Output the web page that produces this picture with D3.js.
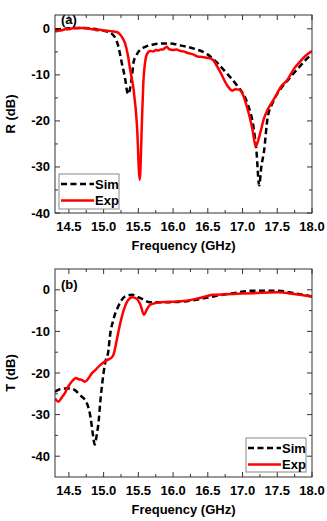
<!DOCTYPE html>
<html>
<head>
<meta charset="utf-8">
<script src="https://cdn.jsdelivr.net/npm/d3@7"></script>
<style>
  body { margin: 0; background: #fff; }
  svg text { font-family: "Liberation Sans", Arial, sans-serif; font-weight: bold; }
</style>
</head>
<body>
<svg id="chart" width="327" height="521"></svg>
<script>
// R panel (a)
const rSimF = [14.3, 14.5, 14.7, 14.85, 14.95, 15.05, 15.14, 15.21, 15.26, 15.31, 15.34, 15.36, 15.38, 15.41, 15.43, 15.47, 15.5, 15.6, 15.72, 15.85, 15.95, 16.1, 16.3, 16.49, 16.63, 16.78, 16.92, 17.07, 17.16, 17.2, 17.24, 17.27, 17.31, 17.36, 17.43, 17.55, 17.65, 17.74, 17.84, 17.92, 18.0];
const rSimV = [-0.2, 0.1, 0.2, 0, -0.3, -0.6, -1.4, -3.7, -7.3, -10.9, -13.7, -14.2, -13, -10.1, -7.3, -5.8, -5.0, -3.9, -3.4, -3.2, -3.2, -3.6, -4.3, -5.5, -7.3, -9.8, -12.3, -16.2, -21.6, -26.5, -34, -30, -26.5, -19.4, -16.2, -13, -11.2, -9.6, -7.9, -6.6, -5.5];
const rExpF = [14.3, 14.35, 14.4, 14.45, 14.5, 14.55, 14.6, 14.65, 14.7, 14.75, 14.8, 14.85, 14.9, 14.95, 15.0, 15.05, 15.1, 15.15, 15.19, 15.24, 15.28, 15.31, 15.35, 15.38, 15.43, 15.48, 15.52, 15.55, 15.57, 15.6, 15.62, 15.67, 15.72, 15.75, 15.79, 15.82, 15.85, 15.88, 15.91, 15.94, 16.0, 16.05, 16.1, 16.15, 16.2, 16.28, 16.35, 16.42, 16.49, 16.57, 16.62, 16.68, 16.78, 16.85, 16.9, 16.95, 16.99, 17.07, 17.14, 17.19, 17.22, 17.26, 17.31, 17.36, 17.43, 17.5, 17.55, 17.64, 17.74, 17.84, 17.92, 18.0];
const rExpV = [-0.6, -0.4, -0.3, -0.1, -0.1, 0.1, 0.1, 0.2, 0.2, 0.1, 0, -0.1, -0.3, -0.2, -0.4, -0.4, -0.5, -0.6, -0.7, -1.3, -2.2, -3.2, -5.8, -8.7, -13, -20.9, -32.8, -20.9, -12.3, -7, -5.6, -4.8, -4.9, -4.6, -4.7, -4.5, -4.5, -4.2, -3.9, -4.4, -4.6, -4.5, -4.8, -4.9, -5.2, -5.5, -6.0, -6.1, -6.3, -6.7, -7.8, -9.4, -12.3, -13.4, -13.1, -13.2, -13.8, -17.3, -21.6, -25.5, -24.5, -22.3, -19.4, -17.6, -15.8, -14.0, -12.6, -11.2, -8.7, -6.9, -5.7, -4.8];

// T panel (b)
const tSimF = [14.3, 14.37, 14.47, 14.56, 14.66, 14.76, 14.81, 14.85, 14.87, 14.9, 14.93, 14.95, 14.98, 15.02, 15.07, 15.09, 15.14, 15.21, 15.31, 15.41, 15.53, 15.67, 15.9, 16.15, 16.4, 16.58, 16.87, 17.16, 17.5, 17.74, 18.0];
const tSimV = [-24.5, -23.9, -23.7, -23.9, -25.3, -27.3, -30.5, -35.3, -37.2, -35, -31.3, -27.3, -22.5, -17.7, -14.5, -11.3, -7.2, -4, -1.6, -1.2, -2, -3, -3, -2.8, -2.2, -1.6, -0.8, -0.2, -0.2, -0.8, -1.6];
const tExpF = [14.3, 14.35, 14.4, 14.44, 14.48, 14.52, 14.56, 14.6, 14.64, 14.69, 14.73, 14.78, 14.83, 14.88, 14.95, 15.05, 15.12, 15.14, 15.19, 15.24, 15.29, 15.34, 15.41, 15.48, 15.53, 15.58, 15.62, 15.67, 15.77, 15.95, 16.15, 16.4, 16.58, 16.87, 17.16, 17.5, 17.74, 18.0];
const tExpV = [-26.1, -26.9, -25.8, -24.9, -23.5, -22.5, -21.7, -21.2, -21.5, -21.7, -22.1, -21.3, -20.1, -19.3, -18.1, -16.9, -16.2, -15.7, -12, -8, -4.8, -2.8, -1.8, -2.2, -3.6, -6, -4.8, -3.6, -3.1, -2.9, -2.7, -1.9, -1.2, -1, -0.8, -0.6, -1, -1.6];

const xTicks = [14.5, 15.0, 15.5, 16.0, 16.5, 17.0, 17.5, 18.0];
const yTicks = [-40, -30, -20, -10, 0];
const seriesNames = ['Sim', 'Exp'];

const svg = d3.select('#chart');
const left = 55, right = 312;

const panels = [
    { label: '(a)', yTitle: 'R (dB)', top: 15, bottom: 213, yDomain: [-40, 3],
      sim: rSimF.map((f, i) => [f, rSimV[i]]), exp: rExpF.map((f, i) => [f, rExpV[i]]),
      legend: { x: 59, y: 174, w: 60, h: 35 }, labelY: 23.5 },
    { label: '(b)', yTitle: 'T (dB)', top: 269, bottom: 477, yDomain: [-45, 5],
      sim: tSimF.map((f, i) => [f, tSimV[i]]), exp: tExpF.map((f, i) => [f, tExpV[i]]),
      legend: { x: 246, y: 438, w: 60, h: 34 }, labelY: 288.5 }
];

panels.forEach(p => {
    const x = d3.scaleLinear().domain([14.3, 18]).range([left, right]);
    const y = d3.scaleLinear().domain(p.yDomain).range([p.bottom, p.top]);
    const g = svg.append('g');

    // minor ticks every 0.25 GHz / 5 dB
    const xMinor = d3.range(14.5, 18.01, 0.25).filter(v => Math.abs(v * 2 - Math.round(v * 2)) > 0.01);
    const yMinor = d3.range(-45, 5.01, 10).filter(v => v > p.yDomain[0] && v < p.yDomain[1]);

    const ticks = g.append('g').attr('stroke', '#333').attr('stroke-width', 1);
    xTicks.forEach(v => {
        ticks.append('line').attr('x1', x(v)).attr('x2', x(v)).attr('y1', p.bottom).attr('y2', p.bottom - 5);
        ticks.append('line').attr('x1', x(v)).attr('x2', x(v)).attr('y1', p.top).attr('y2', p.top + 5);
    });
    xMinor.forEach(v => {
        ticks.append('line').attr('x1', x(v)).attr('x2', x(v)).attr('y1', p.bottom).attr('y2', p.bottom - 3);
        ticks.append('line').attr('x1', x(v)).attr('x2', x(v)).attr('y1', p.top).attr('y2', p.top + 3);
    });
    yTicks.forEach(v => {
        ticks.append('line').attr('x1', left).attr('x2', left + 5).attr('y1', y(v)).attr('y2', y(v));
        ticks.append('line').attr('x1', right).attr('x2', right - 5).attr('y1', y(v)).attr('y2', y(v));
    });
    yMinor.forEach(v => {
        ticks.append('line').attr('x1', left).attr('x2', left + 3).attr('y1', y(v)).attr('y2', y(v));
        ticks.append('line').attr('x1', right).attr('x2', right - 3).attr('y1', y(v)).attr('y2', y(v));
    });

    // tick labels
    g.selectAll('.xl').data(xTicks).enter().append('text')
        .attr('x', d => x(d)).attr('y', p.bottom + 18)
        .attr('text-anchor', 'middle').attr('font-size', 13)
        .text(d => d.toFixed(1));
    g.selectAll('.yl').data(yTicks).enter().append('text')
        .attr('x', left - 5).attr('y', d => y(d) + 4.5)
        .attr('text-anchor', 'end').attr('font-size', 13)
        .text(d => d);

    // titles
    g.append('text').attr('x', (left + right) / 2).attr('y', p.bottom + 37)
        .attr('text-anchor', 'middle').attr('font-size', 13).text('Frequency (GHz)');
    g.append('text')
        .attr('transform', `translate(15, ${(p.top + p.bottom) / 2}) rotate(-90)`)
        .attr('text-anchor', 'middle').attr('font-size', 13).text(p.yTitle);
    g.append('text').attr('x', 61).attr('y', p.labelY).attr('font-size', 13).text(p.label);

    // data
    g.append('defs').append('clipPath').attr('id', 'clip' + p.top)
        .append('rect').attr('x', left).attr('y', p.top).attr('width', right - left).attr('height', p.bottom - p.top);
    const line = d3.line().x(d => x(d[0])).y(d => y(d[1])).curve(d3.curveMonotoneX);
    const plot = g.append('g').attr('clip-path', `url(#clip${p.top})`);
    plot.append('path').datum(p.sim)
        .attr('fill', 'none').attr('stroke', '#000').attr('stroke-width', 2.5)
        .attr('stroke-dasharray', '6,3.5').attr('d', line);
    plot.append('path').datum(p.exp)
        .attr('fill', 'none').attr('stroke', '#f00').attr('stroke-width', 2.5)
        .attr('stroke-linejoin', 'round').attr('d', line);

    // frame
    g.append('rect').attr('x', left).attr('y', p.top)
        .attr('width', right - left).attr('height', p.bottom - p.top)
        .attr('fill', 'none').attr('stroke', '#333').attr('stroke-width', 1);

    // legend
    const L = p.legend;
    const lg = g.append('g');
    lg.append('rect').attr('x', L.x).attr('y', L.y).attr('width', L.w).attr('height', L.h)
        .attr('fill', '#fff').attr('stroke', '#888').attr('stroke-width', 1);
    seriesNames.forEach((name, i) => {
        const ly = L.y + 10 + i * 16.5;
        lg.append('line').attr('x1', L.x + 2).attr('x2', L.x + 35).attr('y1', ly).attr('y2', ly)
            .attr('stroke', i === 0 ? '#000' : '#f00').attr('stroke-width', 2.5)
            .attr('stroke-dasharray', i === 0 ? '6,3.5' : null);
        lg.append('text').attr('x', L.x + 36).attr('y', ly + 4.5).attr('font-size', 13).text(name);
    });
});
</script>
</body>
</html>
